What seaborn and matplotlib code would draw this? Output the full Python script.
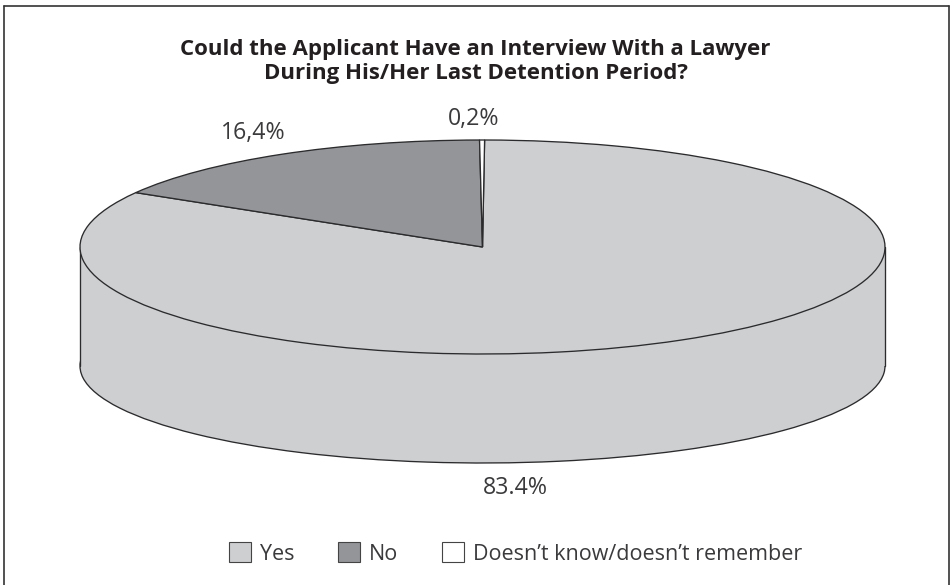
import matplotlib
matplotlib.use("Agg")
import matplotlib.pyplot as plt
from matplotlib.patches import Rectangle, Patch
import seaborn as sns

title_lines = ["Could the Applicant Have an Interview With a Lawyer",
               "During His/Her Last Detention Period?"]
categories = ["Yes", "No", "Doesn\u2019t know/doesn\u2019t remember"]
values = [83.4, 16.4, 0.2]
value_labels = ["83.4%", "16,4%", "0,2%"]
colors = ["#CDCFD1", "#939598", "#FFFFFF"]
INK = "#2b2b2d"

sns.set_theme(style="white")
plt.rcParams["font.family"] = ["Open Sans", "DejaVu Sans"]

W, H = 950, 585
fig = plt.figure(figsize=(W / 100, H / 100), dpi=100, facecolor="white")

def box(x0, x1, ytop, ybot):
    return [x0 / W, 1 - ybot / H, (x1 - x0) / W, (ybot - ytop) / H]

X0, X1 = 80, 885
CY, RY = 247, 107
SIDE_CY, SIDE_RY = 366, 97
wedge = dict(edgecolor=INK, linewidth=0.95)

# lower rim of the cylinder
ax_low = fig.add_axes(box(X0, X1, SIDE_CY - SIDE_RY, SIDE_CY + SIDE_RY))
low, _ = ax_low.pie(values, colors=colors, startangle=89.7, counterclock=False,
                    radius=1, wedgeprops=wedge)
ax_low.set_aspect("auto")
ax_low.set_xlim(-1, 1)
ax_low.set_ylim(-1, 1)
for w in low:
    w.set_clip_on(False)
span = (SIDE_CY - CY) / SIDE_RY
ax_low.add_patch(Rectangle((-1, 0), 2, span, facecolor=colors[0], edgecolor="none",
                           zorder=3, clip_on=False))
ax_low.add_patch(Rectangle((-0.1, -0.03), 0.2, 0.06, facecolor=colors[0], edgecolor="none",
                           zorder=3, clip_on=False))
ax_low.plot([-1, -1], [0, span], color=INK, lw=0.95, zorder=4, clip_on=False)
ax_low.plot([1, 1], [0, span], color=INK, lw=0.95, zorder=4, clip_on=False)

# top face
ax_top = fig.add_axes(box(X0, X1, CY - RY, CY + RY))
ax_top.patch.set_alpha(0)
top, _ = ax_top.pie(values, colors=colors, startangle=89.7, counterclock=False,
                    radius=1, wedgeprops=wedge)
ax_top.set_aspect("auto")
ax_top.set_xlim(-1, 1)
ax_top.set_ylim(-1, 1)
for w in top:
    w.set_clip_on(False)

# frame, open at the cropped bottom edge
for xs, ys in [((3.5, 3.5), (585, 6)), ((3.5, 948.5), (6, 6)), ((948.5, 948.5), (6, 585))]:
    fig.add_artist(plt.Line2D([x / W for x in xs], [1 - y / H for y in ys],
                              color="#333333", lw=1.2))

# title
for line, y in zip(title_lines, (47, 71)):
    fig.text(475.5 / W, 1 - y / H, line, ha="center", va="center_baseline", fontsize=16,
             fontweight="bold", color="#231F20")

# value labels
for txt, (x, y) in zip(value_labels, [(515.5, 485), (253.5, 130), (473.5, 115.5)]):
    fig.text(x / W, 1 - y / H, txt, ha="center", va="center_baseline", fontsize=16.7, color="#3A3A3C")

# legend
handles = [Patch(facecolor=c, edgecolor="#444444", linewidth=0.8) for c in colors]
fig.legend(handles, categories, loc="center", bbox_to_anchor=(515.5 / W, 1 - 553.5 / H),
           ncol=3, frameon=False, fontsize=15.5, labelcolor="#3A3A3C",
           handlelength=1.02, handleheight=1.0, handletextpad=0.42, columnspacing=2.02)

fig.savefig("out.png", dpi=100)
